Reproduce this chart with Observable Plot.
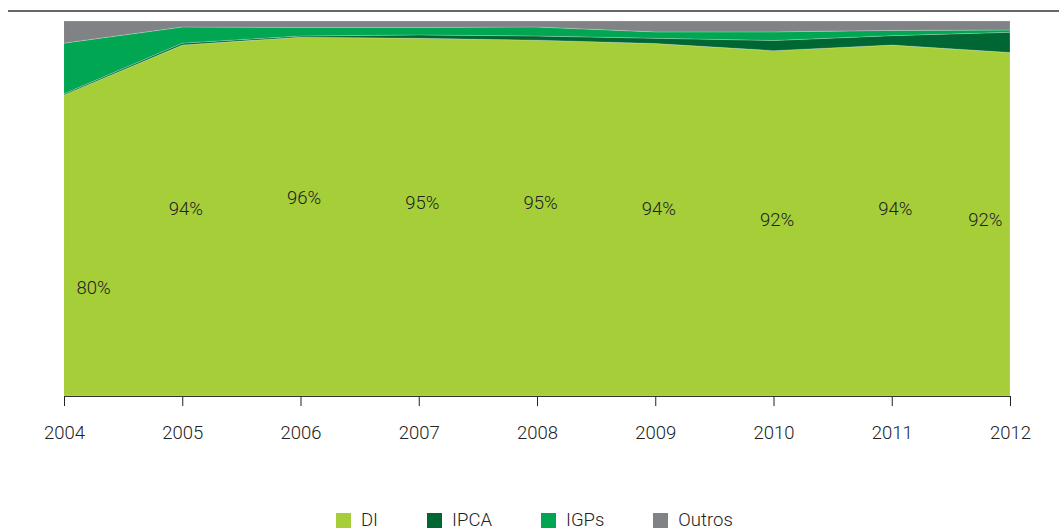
<!DOCTYPE html>
<html>
<head>
<meta charset="utf-8">
<script src="https://cdn.jsdelivr.net/npm/d3@7"></script>
<script src="https://cdn.jsdelivr.net/npm/@observablehq/plot@0.6"></script>
<style>
  html, body { margin: 0; padding: 0; background: #fff; }
  body { width: 1059px; height: 532px; position: relative; overflow: hidden;
         font-family: Roboto, sans-serif; font-weight: 300; color: #222; }
  #topline { position: absolute; left: 8px; right: 0; top: 10px; height: 2px; background: #666; }
  #chart { position: absolute; left: 0; top: 0; }
  #legend { position: absolute; left: 336px; top: 509px; display: flex; gap: 49px; font-size: 18.5px; }
  .item { display: flex; align-items: center; }
  .sw { width: 15px; height: 15px; margin-right: 10px; }
  #chart text { font-weight: 300; }
</style>
</head>
<body>
<div id="topline"></div>
<div id="chart"></div>
<div id="legend"></div>
<script>
const years = [2004, 2005, 2006, 2007, 2008, 2009, 2010, 2011, 2012];
const seriesNames = ["DI", "IPCA", "IGPs", "Outros"];
const seriesColors = ["#a6ce39", "#006633", "#00a651", "#808285"];
const DI     = [80.3, 93.6, 95.7, 95.4, 94.9, 94.0, 92.1, 93.6, 91.6];
const IPCA   = [0.3, 0.5, 0.3, 0.9, 1.1, 1.4, 2.7, 2.5, 5.4];
const IGPs   = [13.5, 4.3, 2.3, 2.0, 2.4, 1.7, 2.3, 1.4, 0.6];
const Outros = [5.9, 1.6, 1.7, 1.7, 1.6, 2.9, 2.9, 2.5, 2.4];

const seriesValues = {DI, IPCA, IGPs, Outros};
const rows = [];
seriesNames.forEach(s => years.forEach((y, i) => rows.push({year: y, series: s, value: seriesValues[s][i]})));
const labels = years.map((y, i) => ({year: y, value: DI[i], text: Math.round(DI[i]) + "%"}));
const labelY = v => 1.5 * Math.round(v) - 91;

const font = 'Roboto, sans-serif';

const plot = Plot.plot({
  width: 1059,
  height: 460,
  marginTop: 21,
  marginBottom: 64,
  marginLeft: 64,
  marginRight: 49,
  style: {fontFamily: font, fontSize: "18.5px", color: "#222", background: "transparent"},
  x: {domain: [2004, 2012], ticks: years, tickFormat: "d", tickSize: 10, tickPadding: 19, label: null},
  y: {domain: [0, 100], axis: null},
  color: {domain: seriesNames, range: seriesColors},
  marks: [
    Plot.areaY(rows, {x: "year", y: "value", fill: "series", order: seriesNames,
      stroke: "#ffffff", strokeOpacity: 0.35, strokeWidth: 0.6}),
    Plot.ruleY([0], {stroke: "#333", strokeWidth: 1.2}),
    Plot.text(labels.slice(0, 1), {x: "year", y: d => labelY(d.value), text: "text", textAnchor: "start", dx: 12, fill: "#222", fontSize: 18.5}),
    Plot.text(labels.slice(1, -1), {x: "year", y: d => labelY(d.value), text: "text", fill: "#222", fontSize: 18.5, dx: 3}),
    Plot.text(labels.slice(-1), {x: "year", y: d => labelY(d.value), text: "text", textAnchor: "end", dx: -8, fill: "#222", fontSize: 18.5})
  ]
});
document.getElementById("chart").appendChild(plot);

const legend = document.getElementById("legend");
seriesNames.forEach((s, i) => {
  const it = document.createElement("div");
  it.className = "item";
  const sw = document.createElement("span");
  sw.className = "sw";
  sw.style.background = seriesColors[i];
  const t = document.createElement("span");
  t.textContent = s;
  it.appendChild(sw); it.appendChild(t);
  legend.appendChild(it);
});
</script>
</body>
</html>
